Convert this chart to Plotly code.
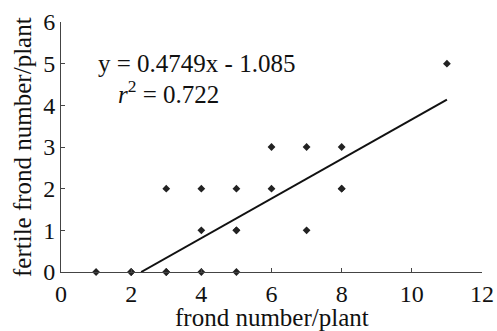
import plotly.graph_objects as go

frond_number = [1, 2, 2, 3, 3, 4, 5, 3, 4, 5, 4, 5, 5, 6, 6, 7, 8, 7, 8, 8, 11]
fertile_number = [0, 0, 0, 0, 0, 0, 0, 2, 2, 2, 1, 1, 1, 2, 3, 3, 3, 1, 2, 2, 5]
slope = 0.4749
intercept = -1.085
fit_x = [-intercept / slope, 11]
fit_y = [slope * x + intercept for x in fit_x]

font = "Liberation Serif, Times New Roman, serif"

fig = go.Figure()
fig.add_trace(go.Scatter(x=fit_x, y=fit_y, mode="lines",
                         line=dict(color="#111", width=2), showlegend=False))
fig.add_trace(go.Scatter(x=frond_number, y=fertile_number, mode="markers",
                         marker=dict(symbol="diamond", size=6, color="#222"),
                         cliponaxis=False, showlegend=False))

fig.add_annotation(x=1.0, y=5.0, xref="x", yref="y",
                   text="y = 0.4749x - 1.085", showarrow=False,
                   xanchor="left", yanchor="middle",
                   font=dict(family=font, size=25, color="#111"))
fig.add_annotation(x=1.58, y=4.33, xref="x", yref="y",
                   text="<i>r</i><sup>2</sup> = 0.722", showarrow=False,
                   xanchor="left", yanchor="middle",
                   font=dict(family=font, size=25, color="#111"))

# axis titles
fig.add_annotation(x=0.5, y=0, xref="x domain", yref="paper",
                   text="frond number/plant", showarrow=False,
                   xanchor="center", yanchor="middle", yshift=-45,
                   font=dict(family=font, size=25, color="#111"))
fig.add_annotation(x=0, y=0.5, xref="paper", yref="y domain",
                   text="fertile frond number/plant", showarrow=False,
                   textangle=-90, xanchor="center", yanchor="middle",
                   xshift=-39,
                   font=dict(family=font, size=25, color="#111"))

fig.update_layout(
    width=497, height=331,
    margin=dict(l=61, r=15, t=22, b=59),
    paper_bgcolor="white", plot_bgcolor="white",
    font=dict(family=font, size=24, color="#111"),
    xaxis=dict(range=[0, 12], tickvals=[0, 2, 4, 6, 8, 10, 12],
               showgrid=False, zeroline=False, showline=True, automargin=False,
               linecolor="#444", linewidth=1, ticks="inside", ticklen=4,
               tickcolor="#444"),
    yaxis=dict(range=[0, 6], tickvals=[0, 1, 2, 3, 4, 5, 6],
               showgrid=False, zeroline=False, showline=True, automargin=False,
               linecolor="#444", linewidth=1, ticks="inside", ticklen=4,
               tickcolor="#444"),
)

fig.write_html("out.html", config={"displayModeBar": False},
               post_script="document.body.style.margin='0';document.body.style.overflow='hidden';")
